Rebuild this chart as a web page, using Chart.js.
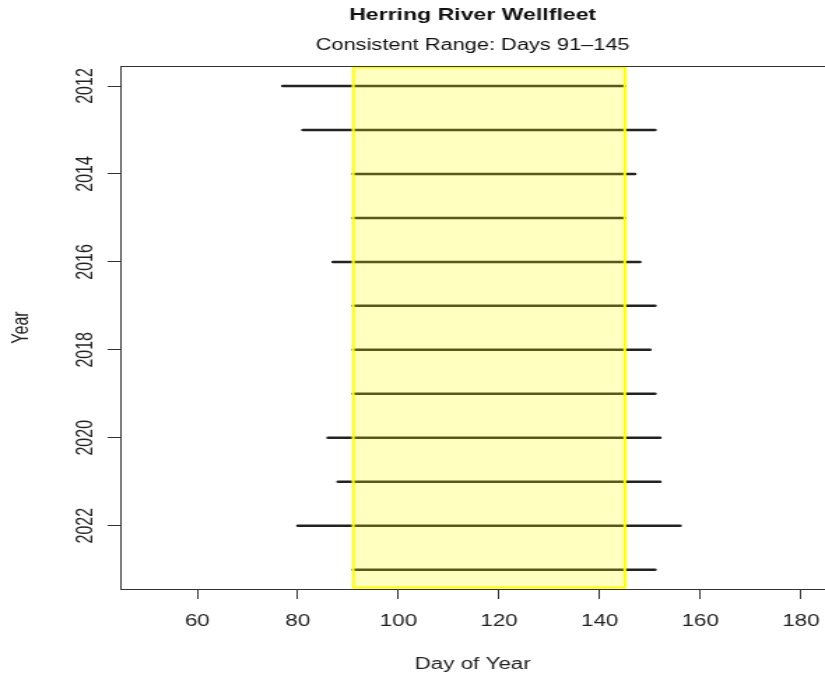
<!DOCTYPE html>
<html lang="en">
<head>
<meta charset="UTF-8">
<title>Herring River Wellfleet</title>
<script src="https://cdn.jsdelivr.net/npm/chart.js"></script>
<style>
  html, body { margin: 0; padding: 0; background: #fff; overflow: hidden; }
  /* the reference image is stretched sideways, so draw narrow and scale up */
  #wrap { width: 590px; height: 678px; transform: scaleX(1.398305); transform-origin: 0 0; }
</style>
</head>
<body>
<div id="wrap"><canvas id="chart" width="590" height="678"></canvas></div>
<script>
// run start / end day for each year
const years     = [2012, 2013, 2014, 2015, 2016, 2017, 2018, 2019, 2020, 2021, 2022, 2023];
const startDays = [77, 81, 91, 91, 87, 91, 91, 91, 86, 88, 80, 91];
const endDays   = [145, 151, 147, 145, 148, 151, 150, 151, 152, 152, 156, 151];

// consistent range shared by all years
const rangeStart = 91;
const rangeEnd = 145;

const xTicks = [60, 80, 100, 120, 140, 160, 180];
const yTicks = [2012, 2014, 2016, 2018, 2020, 2022];

const FONT = 'Liberation Sans, Arial, Helvetica, sans-serif';
const AXIS_COLOR = '#333';

const datasets = years.map((year, i) => ({
    label: String(year),
    data: [{ x: startDays[i], y: year }, { x: endDays[i], y: year }],
    borderColor: '#222',
    borderWidth: 2.5,
    borderCapStyle: 'round',
    pointRadius: 0,
    fill: false
}));

// yellow band for the consistent range, box top edge and titles
const rangeBand = {
    id: 'rangeBand',
    afterDatasetsDraw(chart) {
        const { ctx, chartArea, scales } = chart;
        const x1 = scales.x.getPixelForValue(rangeStart);
        const x2 = scales.x.getPixelForValue(rangeEnd);
        ctx.save();
        ctx.fillStyle = 'rgba(255, 255, 0, 0.25)';
        ctx.fillRect(x1, chartArea.top, x2 - x1, chartArea.bottom - chartArea.top);
        ctx.strokeStyle = '#ffff00';
        ctx.lineWidth = 2;
        ctx.strokeRect(x1, chartArea.top + 1.5, x2 - x1, chartArea.bottom - chartArea.top - 3);
        // top edge of the plot box
        ctx.strokeStyle = AXIS_COLOR;
        ctx.lineWidth = 1;
        ctx.beginPath();
        ctx.moveTo(chartArea.left, chartArea.top + 0.5);
        ctx.lineTo(chartArea.right, chartArea.top + 0.5);
        ctx.stroke();
        ctx.restore();
    },
    afterDraw(chart) {
        const { ctx, chartArea } = chart;
        const cx = (chartArea.left + chartArea.right) / 2;
        ctx.save();
        ctx.fillStyle = '#111';
        ctx.textAlign = 'center';
        ctx.textBaseline = 'middle';
        ctx.font = 'bold 16.5px ' + FONT;
        ctx.fillText('Herring River Wellfleet', cx, 15);
        ctx.font = '15.6px ' + FONT;
        ctx.fillText('Consistent Range: Days 91\u2013145', cx, 46);
        ctx.restore();
    }
};

new Chart(document.getElementById('chart'), {
    type: 'line',
    data: { datasets },
    options: {
        responsive: false,
        animation: false,
        layout: { autoPadding: false, padding: { top: 66, right: 0, left: 0, bottom: 0 } },
        plugins: {
            legend: { display: false },
            tooltip: { enabled: false }
        },
        scales: {
            x: {
                type: 'linear',
                position: 'bottom',
                min: 44.7,
                max: 184.8,
                afterBuildTicks: s => { s.ticks = xTicks.map(v => ({ value: v })); },
                afterFit: s => { s.height = 89; s.paddingLeft = 0; s.paddingRight = 0; },
                grid: { drawOnChartArea: false, tickLength: 10, color: AXIS_COLOR },
                border: { color: AXIS_COLOR, width: 1 },
                ticks: { color: '#222', font: { size: 16, family: FONT }, padding: 13, maxRotation: 0 },
                title: {
                    display: true, text: 'Day of Year', color: '#222',
                    font: { size: 16, family: FONT }, padding: { top: 0, bottom: 4 }
                }
            },
            y: {
                type: 'linear',
                reverse: true,
                min: 2011.545,
                max: 2023.44,
                afterBuildTicks: s => { s.ticks = yTicks.map(v => ({ value: v })); },
                afterFit: s => { s.width = 86; s.paddingTop = 0; s.paddingBottom = 0; },
                grid: { drawOnChartArea: false, tickLength: 9, color: AXIS_COLOR },
                border: { color: AXIS_COLOR, width: 1 },
                ticks: {
                    color: '#222', font: { size: 16, family: FONT },
                    minRotation: 90, maxRotation: 90, crossAlign: 'center', padding: -2,
                    callback: v => String(v)
                },
                title: {
                    display: true, text: 'Year', color: '#222',
                    font: { size: 16, family: FONT }, padding: { top: 6, bottom: 0 }
                }
            }
        }
    },
    plugins: [rangeBand]
});
</script>
</body>
</html>
